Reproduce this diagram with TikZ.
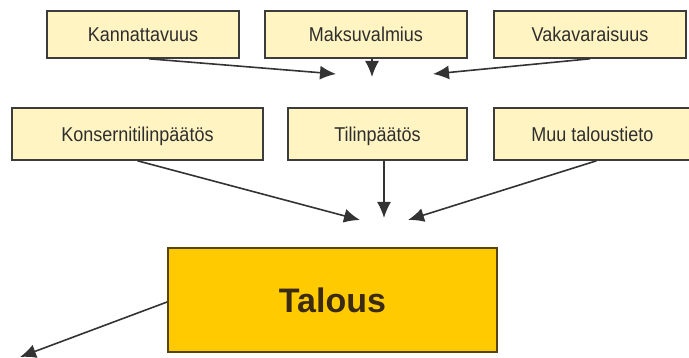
\documentclass[tikz,border=0pt]{standalone}
\usepackage{fontspec}
\setmainfont{Liberation Sans}
\newfontfamily\boxfont[FakeStretch=0.9]{Liberation Sans}
\usepackage{xcolor}
\usepackage{tikz}
\usetikzlibrary{arrows.meta,positioning}
\definecolor{talousPale}{HTML}{FFF4C2}
\definecolor{talousGold}{HTML}{FFCA00}
\definecolor{talousEdge}{HTML}{3C3C3C}
\definecolor{talousBrown}{HTML}{3A2A12}
\definecolor{talousInk}{HTML}{2E2E2E}
\tikzset{
  >=Latex,
  % pale boxes for the parts of the accounts
  factor/.style={
    rectangle,
    fill=talousPale,
    draw=talousEdge,
    line width=1.6pt,
    minimum height=47pt,
    inner sep=0pt,
    text height=15pt,
    text depth=0.6pt,
    text=talousInk,
    font=\boxfont\fontsize{20}{22}\selectfont
  },
  mainbox/.style={
    rectangle,
    fill=talousGold,
    draw=talousBrown!85!talousGold,
    line width=1.8pt,
    minimum width=329pt,
    minimum height=104pt,
    inner sep=0pt,
    text=talousBrown,
    font=\fontsize{34}{38}\selectfont\bfseries
  },
  arrow/.style={
    -{Latex[length=16pt,width=14pt]},
    line width=1.6pt,
    draw=black!80
  }
}
\begin{document}
\begin{tikzpicture}[x=1pt,y=-1pt]
\useasboundingbox (0,0) rectangle (689,358);

\node[factor, minimum width=192pt] (kan) at (143,34.5) {Kannattavuus};
\node[factor, minimum width=202pt] (maks) at (366,34.5) {Maksuvalmius};
\node[factor, minimum width=192pt] (vak) at (590,34.5) {Vakavaraisuus};

\node[factor, minimum width=251pt, minimum height=52pt] (kons) at (137.5,134) {Konsernitilinp\"a\"at\"os};
\node[factor, minimum width=179pt, minimum height=52pt] (til) at (377.5,134) {Tilinp\"a\"at\"os};
\node[factor, minimum width=197pt, minimum height=52pt] (muu) at (592.5,134) {Muu taloustieto};

\node[mainbox] (talous) at (332.5,300) {Talous};

% where the arrows meet
\coordinate (topL) at (336,74);
\coordinate (topM) at (372,77);
\coordinate (topR) at (433,74);
\coordinate (midL) at (360,220);
\coordinate (midM) at (384,218);
\coordinate (midR) at (408,220);
\coordinate (out) at (20,357);

\draw[arrow] ([xshift=6pt]kan.south) -- (topL);
\draw[arrow] ([xshift=6pt]maks.south) -- (topM);
\draw[arrow] (vak.south) -- (topR);
\draw[arrow] (kons.south) -- (midL);
\draw[arrow] ([xshift=6.5pt]til.south) -- (midM);
\draw[arrow] ([xshift=4pt]muu.south) -- (midR);
\draw[arrow] ([yshift=-2pt]talous.west) -- (out);

\end{tikzpicture}
\end{document}
